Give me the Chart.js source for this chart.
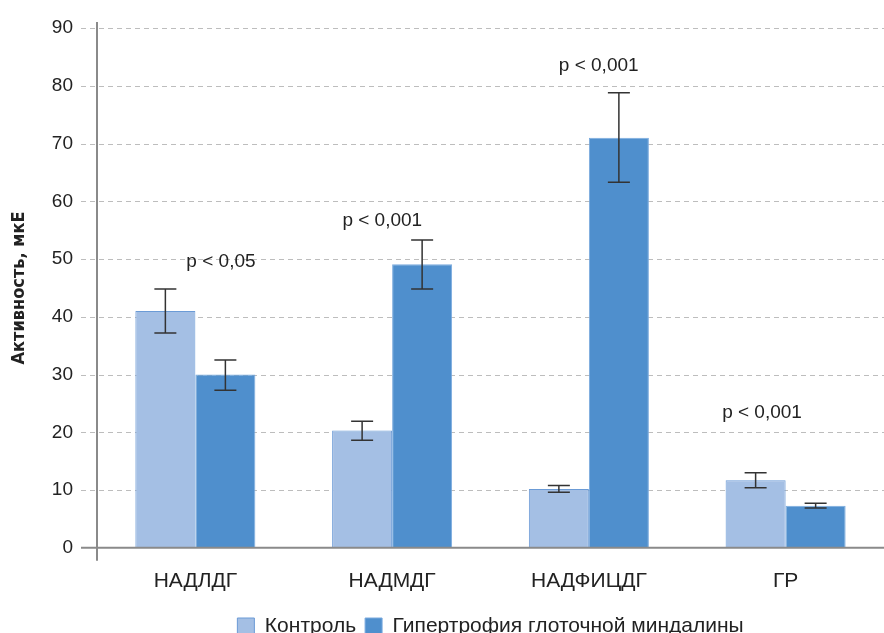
<!DOCTYPE html>
<html>
<head>
<meta charset="utf-8">
<script src="https://cdn.jsdelivr.net/npm/chart.js@4.4.0/dist/chart.umd.min.js"></script>
<style>
  html, body { margin: 0; padding: 0; background: #fff; overflow: hidden; }
  #wrap { width: 884px; height: 647px; }
</style>
</head>
<body>
<div id="wrap"><canvas id="activityChart"></canvas></div>
<script>
const categories = ["НАДЛДГ", "НАДМДГ", "НАДФИЦДГ", "ГР"];
const controlValues = [41, 20.3, 10.2, 11.7];
const controlErrLow = [37.2, 18.6, 9.6, 10.4];
const controlErrHigh = [44.8, 21.9, 10.8, 13.0];
const hyperValues = [30, 49.1, 71, 7.3];
const hyperErrLow = [27.3, 44.8, 63.3, 6.9];
const hyperErrHigh = [32.5, 53.3, 78.8, 7.7];
const yTicks = [0, 10, 20, 30, 40, 50, 60, 70, 80, 90];
const pLabels = ["p < 0,05", "p < 0,001", "p < 0,001", "p < 0,001"];
const pLabelY = [49.6, 56.7, 83.4, 23.4];
const pLabelShift = [0.13, -0.05, 0.05, -0.12];

const fontMain = "'Liberation Sans', Arial, sans-serif";

// dashed grid, error bars, p-labels, and axis lines that stick out past the chart area
const extrasPlugin = {
  id: "extras",
  beforeDatasetsDraw(chart) {
    const ctx = chart.ctx;
    const y = chart.scales.y;
    const area = chart.chartArea;
    ctx.save();
    ctx.strokeStyle = "#bdbdbd";
    ctx.lineWidth = 1;
    ctx.setLineDash([5, 4]);
    yTicks.forEach(function (v) {
      if (v === 0) return;
      const py = Math.round(y.getPixelForValue(v)) + 0.5;
      ctx.beginPath();
      ctx.moveTo(81, py);
      ctx.lineTo(area.right, py);
      ctx.stroke();
    });
    ctx.restore();
  },
  afterDatasetsDraw(chart) {
    const ctx = chart.ctx;
    const x = chart.scales.x;
    const y = chart.scales.y;
    const area = chart.chartArea;

    ctx.save();
    ctx.strokeStyle = "#8a8a8a";
    ctx.lineWidth = 2;
    ctx.beginPath();
    ctx.moveTo(81, y.getPixelForValue(0));
    ctx.lineTo(area.right, y.getPixelForValue(0));
    ctx.moveTo(area.left, y.getPixelForValue(90) - 6);
    ctx.lineTo(area.left, y.getPixelForValue(0) + 13);
    ctx.stroke();

    const sets = [
      [controlErrLow, controlErrHigh],
      [hyperErrLow, hyperErrHigh],
    ];
    ctx.strokeStyle = "#333";
    ctx.lineWidth = 1.5;
    sets.forEach(function (pair, di) {
      const meta = chart.getDatasetMeta(di);
      meta.data.forEach(function (bar, i) {
        const cx = bar.x;
        const top = y.getPixelForValue(pair[1][i]);
        const bot = y.getPixelForValue(pair[0][i]);
        ctx.beginPath();
        ctx.moveTo(cx, top);
        ctx.lineTo(cx, bot);
        ctx.moveTo(cx - 11, top);
        ctx.lineTo(cx + 11, top);
        ctx.moveTo(cx - 11, bot);
        ctx.lineTo(cx + 11, bot);
        ctx.stroke();
      });
    });

    ctx.fillStyle = "#222";
    ctx.font = "19px " + fontMain;
    ctx.textAlign = "center";
    ctx.textBaseline = "middle";
    pLabels.forEach(function (t, i) {
      ctx.fillText(t, x.getPixelForValue(i + pLabelShift[i]), y.getPixelForValue(pLabelY[i]));
    });
    ctx.restore();
  },
};

new Chart(document.getElementById("activityChart"), {
  type: "bar",
  data: {
    labels: categories,
    datasets: [
      {
        label: "Контроль",
        data: controlValues,
        backgroundColor: "#a4bfe4",
        borderColor: "#6b9bd6",
        borderWidth: 1,
      },
      {
        label: "Гипертрофия глоточной миндалины",
        data: hyperValues,
        backgroundColor: "#4f8fcd",
        borderColor: "#7aaade",
        borderWidth: 1,
      },
    ],
  },
  options: {
    responsive: true,
    maintainAspectRatio: false,
    animation: false,
    layout: { padding: { top: 28, right: 0, left: 9, bottom: 0 } },
    datasets: {
      bar: { barPercentage: 1, categoryPercentage: 0.61 },
    },
    plugins: {
      legend: {
        position: "bottom",
        fullSize: false,
        labels: {
          boxWidth: 17,
          boxHeight: 17,
          padding: 9,
          color: "#222",
          font: { family: fontMain, size: 21 },
        },
      },
      tooltip: { enabled: false },
    },
    scales: {
      x: {
        grid: { display: false },
        border: { display: false },
        ticks: { color: "#222", padding: 13, font: { family: fontMain, size: 21 } },
      },
      y: {
        min: 0,
        max: 90,
        afterFit(scale) { scale.width = 88; },
        afterBuildTicks(scale) { scale.ticks = yTicks.map(function (v) { return { value: v }; }); },
        grid: { display: false, tickLength: 16 },
        border: { display: false },
        ticks: { color: "#222", padding: 8, font: { family: fontMain, size: 19 } },
        title: {
          display: true,
          text: "Активность, мкЕ",
          color: "#222",
          padding: { top: 0, bottom: 0 },
          font: { family: "'Liberation Sans Narrow', 'DejaVu Sans Condensed', sans-serif", size: 18, weight: "bold" },
        },
      },
    },
  },
  plugins: [extrasPlugin],
});
</script>
</body>
</html>
